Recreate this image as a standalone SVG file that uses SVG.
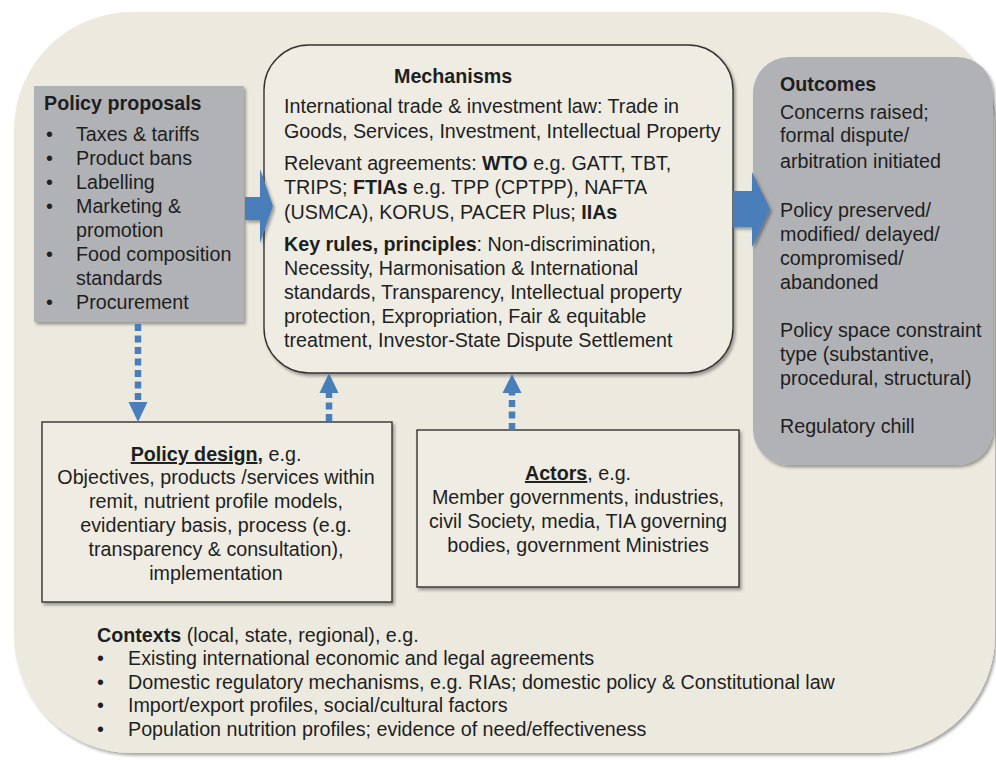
<svg xmlns="http://www.w3.org/2000/svg" width="996" height="760" viewBox="0 0 996 760">
<defs>
<filter id="sh" x="-10%" y="-10%" width="120%" height="120%">
<feDropShadow dx="2" dy="2.5" stdDeviation="1.8" flood-color="#000" flood-opacity="0.35"/>
</filter>
</defs>
<style>
text{font-family:"Liberation Sans",Arial,sans-serif;font-size:19.7px;fill:#1e1e1e}
.b{font-weight:bold}
.mid{text-anchor:middle}
.grey{fill:#b1b2b6}
.box{fill:#eeece3;stroke:#333;stroke-width:1.4}
.dot{stroke:#4a7ebb;stroke-width:6.5;stroke-dasharray:7 4.5;fill:none}
.blk{fill:#4a7ebb}
</style>
<rect id="background" x="14" y="12" width="981" height="741" rx="118" ry="118" fill="#eceadf" filter="url(#sh)"/>

<g id="policy-proposals">
<rect class="grey" x="34" y="86" width="210" height="236" filter="url(#sh)"/>
<text class="b" x="44" y="110">Policy proposals</text>
<text x="46" y="141">•</text><text x="76" y="141">Taxes &amp; tariffs</text>
<text x="46" y="165">•</text><text x="76" y="165">Product bans</text>
<text x="46" y="189">•</text><text x="76" y="189">Labelling</text>
<text x="46" y="213">•</text><text x="76" y="213">Marketing &amp;</text>
<text x="76" y="237">promotion</text>
<text x="46" y="261">•</text><text x="76" y="261">Food composition</text>
<text x="76" y="285">standards</text>
<text x="46" y="309">•</text><text x="76" y="309">Procurement</text>
</g>

<g id="mechanisms">
<rect class="box" x="264" y="45" width="469" height="328" rx="45" ry="45" filter="url(#sh)"/>
<text class="b" x="394" y="83">Mechanisms</text>
<text x="284" y="113">International trade &amp; investment law: Trade in</text>
<text x="284" y="138">Goods, Services, Investment, Intellectual Property</text>
<text x="284" y="170">Relevant agreements: <tspan class="b">WTO</tspan> e.g. GATT, TBT,</text>
<text x="284" y="194">TRIPS; <tspan class="b">FTIAs</tspan> e.g. TPP (CPTPP), NAFTA</text>
<text x="284" y="219">(USMCA), KORUS, PACER Plus; <tspan class="b">IIAs</tspan></text>
<text x="284" y="251"><tspan class="b">Key rules, principles</tspan>: Non-discrimination,</text>
<text x="284" y="275">Necessity, Harmonisation &amp; International</text>
<text x="284" y="299">standards, Transparency, Intellectual property</text>
<text x="284" y="323">protection, Expropriation, Fair &amp; equitable</text>
<text x="284" y="347">treatment, Investor-State Dispute Settlement</text>
</g>

<g id="outcomes">
<rect class="grey" x="753" y="57" width="240" height="408" rx="36" ry="36" filter="url(#sh)"/>
<text class="b" x="780" y="91">Outcomes</text>
<text x="780" y="119">Concerns raised;</text>
<text x="780" y="142">formal dispute/</text>
<text x="780" y="168">arbitration initiated</text>
<text x="780" y="217">Policy preserved/</text>
<text x="780" y="241">modified/ delayed/</text>
<text x="780" y="265">compromised/</text>
<text x="780" y="289">abandoned</text>
<text x="780" y="337">Policy space constraint</text>
<text x="780" y="361">type (substantive,</text>
<text x="780" y="385">procedural, structural)</text>
<text x="780" y="433">Regulatory chill</text>
</g>

<g id="policy-design">
<rect class="box" x="42" y="422" width="350" height="180" filter="url(#sh)"/>
<text class="mid" x="216" y="461"><tspan class="b" text-decoration="underline">Policy design</tspan><tspan class="b">,</tspan> e.g.</text>
<text class="mid" x="216" y="484">Objectives, products /services within</text>
<text class="mid" x="216" y="508">remit, nutrient profile models,</text>
<text class="mid" x="216" y="532">evidentiary basis, process (e.g.</text>
<text class="mid" x="216" y="556">transparency &amp; consultation),</text>
<text class="mid" x="216" y="580">implementation</text>
</g>

<g id="actors">
<rect class="box" x="417" y="430" width="322" height="157" filter="url(#sh)"/>
<text class="mid" x="578" y="480"><tspan class="b" text-decoration="underline">Actors</tspan>, e.g.</text>
<text class="mid" x="578" y="504">Member governments, industries,</text>
<text class="mid" x="578" y="528">civil Society, media, TIA governing</text>
<text class="mid" x="578" y="552">bodies, government Ministries</text>
</g>

<g id="contexts">
<text x="97" y="642"><tspan class="b">Contexts</tspan> (local, state, regional), e.g.</text>
<text x="97" y="665">•</text><text x="128" y="665">Existing international economic and legal agreements</text>
<text x="97" y="689">•</text><text x="128" y="689">Domestic regulatory mechanisms, e.g. RIAs; domestic policy &amp; Constitutional law</text>
<text x="97" y="712">•</text><text x="128" y="712">Import/export profiles, social/cultural factors</text>
<text x="97" y="736">•</text><text x="128" y="736">Population nutrition profiles; evidence of need/effectiveness</text>
</g>

<g id="connectors">
<path class="blk" filter="url(#sh)" d="M245,197 L260,197 L260,169 L273,206 L260,243 L260,220 L245,220 Z"/>
<path class="blk" filter="url(#sh)" d="M733,191 L752,191 L752,172 L770,209 L752,247 L752,227 L733,227 Z"/>
<line class="dot" x1="138" y1="324" x2="138" y2="404"/>
<path class="blk" d="M128.5,402 L147.5,402 L138,422 Z"/>
<line class="dot" x1="329" y1="421" x2="329" y2="391"/>
<path class="blk" d="M319.5,393 L338.5,393 L329,373 Z"/>
<line class="dot" x1="512" y1="430" x2="512" y2="391"/>
<path class="blk" d="M502.5,393 L521.5,393 L512,374 Z"/>
</g>
</svg>
